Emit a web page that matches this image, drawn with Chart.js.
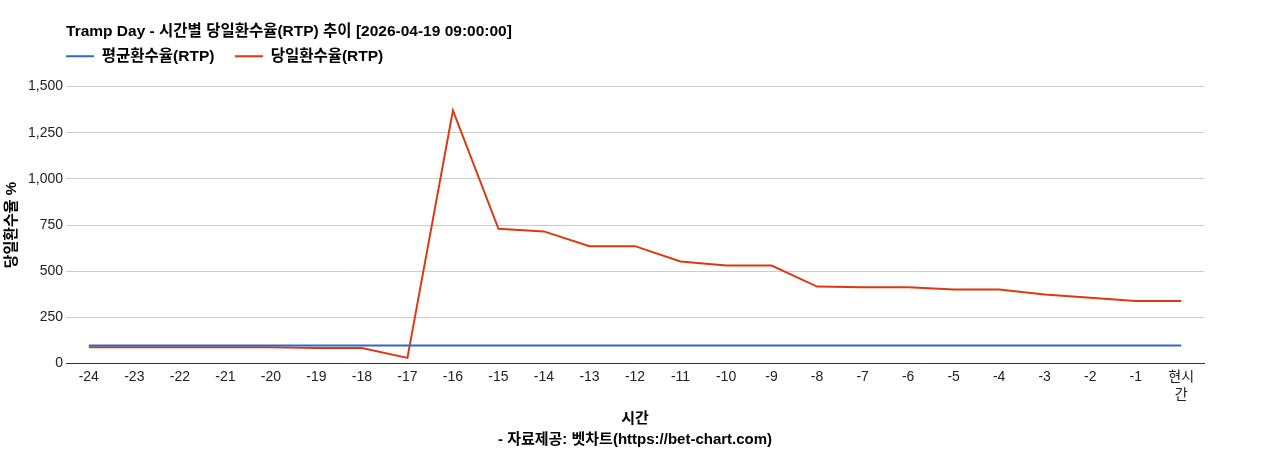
<!DOCTYPE html>
<html>
<head>
<meta charset="utf-8">
<script src="https://cdn.jsdelivr.net/npm/chart.js@4"></script>
<style>
  body { margin: 0; background: #fff; }
  #wrap { width: 1268px; height: 450px; }
</style>
</head>
<body>
<div id="wrap"><canvas id="rtp-chart"></canvas></div>
<script>
// hours before now, last one is "now"
const hours = ['-24','-23','-22','-21','-20','-19','-18','-17','-16','-15','-14','-13',
               '-12','-11','-10','-9','-8','-7','-6','-5','-4','-3','-2','-1',['현시','간']];

// average RTP (flat)
const avgRtp = [98,98,98,98,98,98,98,98,98,98,98,98,98,98,98,98,98,98,98,98,98,98,98,98,98];

// today's RTP
const todayRtp = [89,89,89,89,89,84,84,31,1371,730,716,636,636,553,531,531,417,413,413,401,401,374,357,339,339];

const yTicks = { min: 0, max: 1500, step: 250 };

const fontFamily = "'Liberation Sans', Arial, 'Noto Sans CJK KR', sans-serif";

// legend sits flush with the plot's left edge and close under the title
const legendShift = {
    id: 'legendShift',
    afterLayout(chart) {
        const lg = chart.legend;
        lg.top -= 12.5; lg.bottom -= 12.5;
        lg.left -= 20.5; lg.right -= 20.5;
    }
};

const chartEl = document.getElementById('rtp-chart');

const config = {
    type: 'line',
    data: {
        labels: hours,
        datasets: [{
            label: '평균환수율(RTP)',
            data: avgRtp,
            borderColor: '#3366cc',
            backgroundColor: '#3366cc',
            borderWidth: 2,
            pointRadius: 0,
            tension: 0
        },
        {
            label: '당일환수율(RTP)',
            data: todayRtp,
            borderColor: '#dc3912',
            backgroundColor: '#dc3912',
            borderWidth: 2,
            pointRadius: 0,
            tension: 0
        }]
    },
    options: {
        responsive: true,
        maintainAspectRatio: false,
        animation: false,
        layout: { padding: { top: 22, right: 64, left: 3, bottom: 0 } },
        plugins: {
            title: {
                display: true,
                text: 'Tramp Day - 시간별 당일환수율(RTP) 추이 [2026-04-19 09:00:00]',
                align: 'start',
                fullSize: false,
                color: '#000',
                font: { family: fontFamily, size: 15.5, weight: 'bold' },
                padding: { top: 0, bottom: 0 }
            },
            legend: {
                display: true,
                align: 'start',
                fullSize: false,
                labels: {
                    usePointStyle: true,
                    pointStyle: 'line',
                    pointStyleWidth: 28,
                    color: '#000',
                    font: { family: fontFamily, size: 15.5, weight: 'bold' },
                    padding: 20.5
                }
            },
            tooltip: { enabled: false }
        },
        scales: {
            x: {
                offset: true,
                grid: { display: false, drawTicks: false },
                border: { display: true, color: '#333', width: 1 },
                ticks: {
                    color: '#222',
                    maxRotation: 0,
                    autoSkip: false,
                    padding: 4,
                    font: { family: fontFamily, size: 14, lineHeight: 1.3 }
                },
                title: {
                    display: true,
                    text: ['시간', '- 자료제공: 벳차트(https://bet-chart.com)'],
                    color: '#000',
                    font: { family: fontFamily, size: 15, weight: 'bold', lineHeight: 1.4 },
                    padding: { top: 0, bottom: 0 }
                }
            },
            y: {
                min: yTicks.min,
                max: yTicks.max,
                grid: { color: '#cccccc', drawTicks: false },
                border: { display: false },
                ticks: {
                    stepSize: yTicks.step,
                    color: '#222',
                    padding: 3,
                    font: { family: fontFamily, size: 14 }
                },
                title: {
                    display: true,
                    text: '당일환수율 %',
                    color: '#000',
                    font: { family: fontFamily, size: 15, weight: 'bold' },
                    padding: { top: 0, bottom: 4 }
                }
            }
        }
    },
    plugins: [legendShift]
};

const chart = new Chart(chartEl, config);
</script>
</body>
</html>
